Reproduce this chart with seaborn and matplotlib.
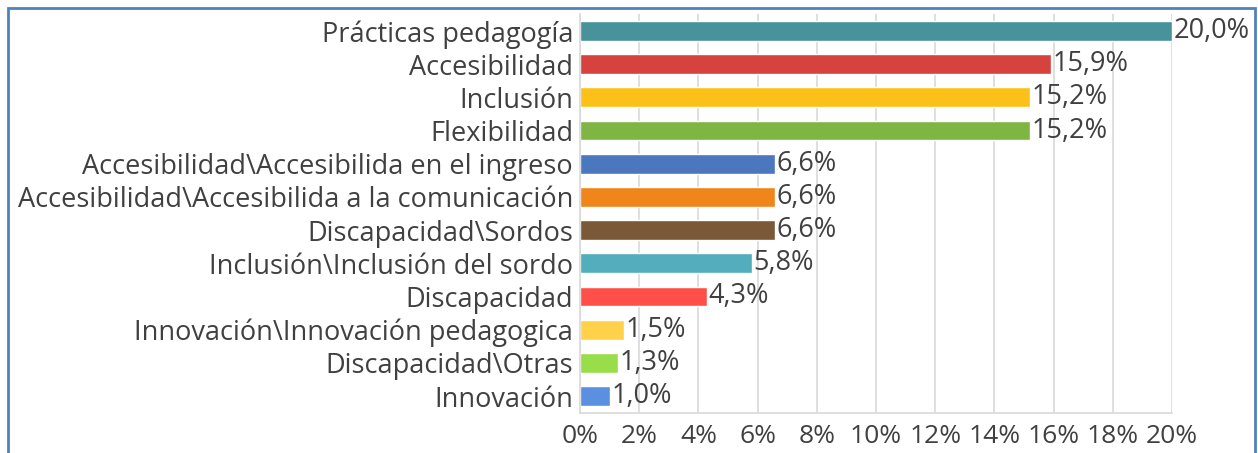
import matplotlib
matplotlib.use("Agg")
import matplotlib.pyplot as plt
import matplotlib.patches as mpatches
from matplotlib.ticker import FuncFormatter
import pandas as pd
import seaborn as sns

categories = ["Prácticas pedagogía",
              "Accesibilidad",
              "Inclusión",
              "Flexibilidad",
              "Accesibilidad\\Accesibilida en el ingreso",
              "Accesibilidad\\Accesibilida a la comunicación",
              "Discapacidad\\Sordos",
              "Inclusión\\Inclusión del sordo",
              "Discapacidad",
              "Innovación\\Innovación pedagogica",
              "Discapacidad\\Otras",
              "Innovación"]
values = [20.0, 15.9, 15.2, 15.2, 6.6, 6.6, 6.6, 5.8, 4.3, 1.5, 1.3, 1.0]
colors = ["#47929B", "#D6423E", "#FCC118", "#7FB543", "#4B77BE", "#F0861A",
          "#7B5838", "#52AEBD", "#FF4F48", "#FFD24A", "#9ADD4A", "#5B8FE0"]
ticks = [0, 2, 4, 6, 8, 10, 12, 14, 16, 18, 20]

sns.set_style("white")
plt.rcParams['font.family'] = ['Open Sans', 'DejaVu Sans']
text_color = "#404040"
fs = 19.5

df = pd.DataFrame({"cat": categories, "val": values})

fig = plt.figure(figsize=(12.58, 4.53), dpi=100)
ax = fig.add_axes([580 / 1258, 1 - 412.6 / 453, 592 / 1258, (412.6 - 14.4) / 453])

sns.barplot(data=df, x="val", y="cat", hue="cat", palette=colors,
            order=categories, hue_order=categories, legend=False,
            width=0.6, saturation=1, ax=ax)

# etiquetas de datos
for i, v in enumerate(values):
    ax.text(v + 0.05, i, f"{v:.1f}%".replace(".", ","), va="center",
            ha="left", fontsize=fs, color=text_color)

# ejes
ax.set_xlim(0, 20)
ax.set_xticks(ticks)
ax.xaxis.set_major_formatter(FuncFormatter(lambda x, p: f"{x:.0f}%"))
ax.set_xlabel("")
ax.set_ylabel("")
ax.xaxis.grid(True, color="#D9D9D9", linewidth=1.2)
ax.set_axisbelow(True)
for s in ["top", "right"]:
    ax.spines[s].set_visible(False)
for s in ["left", "bottom"]:
    ax.spines[s].set_color("#D9D9D9")
    ax.spines[s].set_linewidth(1.2)
ax.tick_params(axis="x", colors="#D9D9D9", length=5, width=1.2,
               labelcolor=text_color, labelsize=19, pad=3)
ax.tick_params(axis="y", length=0, labelcolor=text_color, labelsize=fs, pad=5)

# marco del gráfico
fig.patches.append(mpatches.Rectangle((8 / 1258, -0.05), 1247 / 1258, 1.05 - 8 / 453,
                                      transform=fig.transFigure, fill=False,
                                      edgecolor="#4F81BD", linewidth=2))

fig.savefig("out.png", dpi=100)
